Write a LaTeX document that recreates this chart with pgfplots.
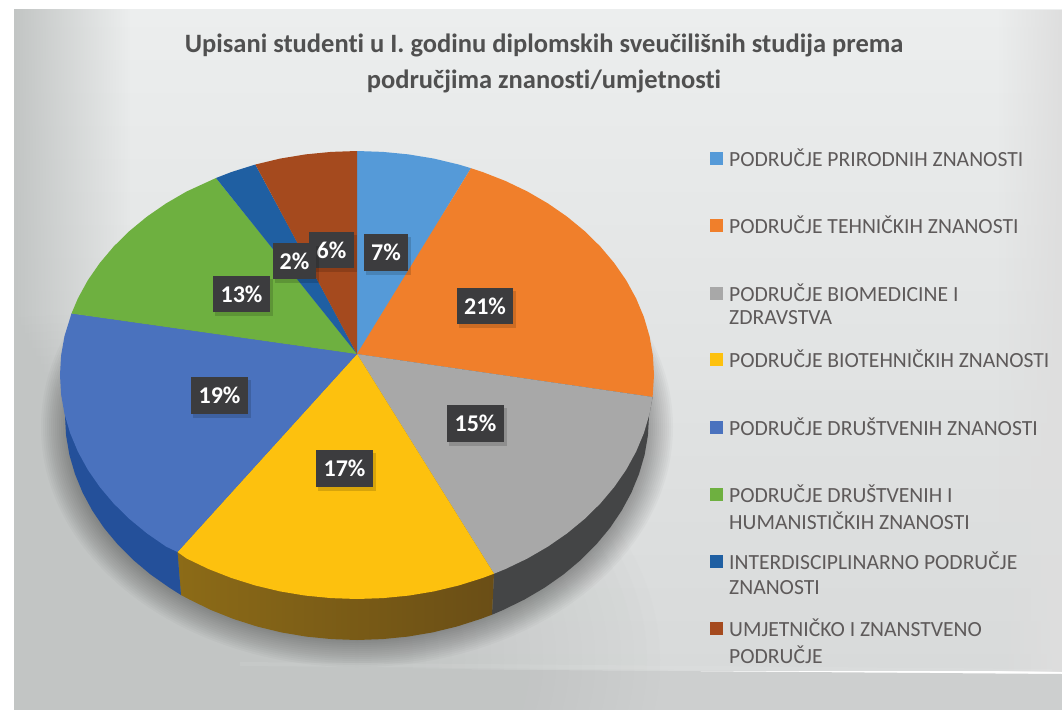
\documentclass[border=0pt]{standalone}
\usepackage{pgfplots}
\pgfplotsset{compat=1.18}
\usepackage{fontspec}
\setmainfont[Ligatures={NoCommon}]{Carlito}
\usetikzlibrary{fadings}
\definecolor{cBlue}{HTML}{559AD8}
\definecolor{cOrange}{HTML}{F07F2B}
\definecolor{cGray}{HTML}{A8A8A8}
\definecolor{cYellow}{HTML}{FDC10E}
\definecolor{cDBlue}{HTML}{4A72BE}
\definecolor{cGreen}{HTML}{6EB040}
\definecolor{cIBlue}{HTML}{1F5FA2}
\definecolor{cBrown}{HTML}{A54A1E}
\definecolor{cBox}{HTML}{3C3C3E}
\definecolor{cTitle}{HTML}{505050}
\definecolor{cLeg}{HTML}{5E5A5A}
\definecolor{bgTop}{HTML}{ECEEEE}
\definecolor{bgMid}{HTML}{E9EBEB}
\definecolor{bgBot}{HTML}{D8DADA}
\definecolor{bgBand}{HTML}{CDCFCF}
\definecolor{bgDark}{HTML}{C2C5C4}
\definecolor{sideL}{HTML}{8C6B17}
\definecolor{sideR}{HTML}{6A4E16}
\definecolor{sideB}{HTML}{24509A}
\definecolor{sideG}{HTML}{444546}
\newcommand{\plabel}[5]{%
  \fill[black,opacity=.15] (axis cs:#1+2,#2+3) rectangle (axis cs:#3+3,#4+4);
  \fill[cBox] (axis cs:#1,#2) rectangle (axis cs:#3,#4);
  \node[text=white,inner sep=0pt,font=\fontsize{24}{26}\selectfont\bfseries] at (axis cs:{(#1+#3)/2},{(#2+#4)/2}) {#5};
}
\newcommand{\legitem}[3]{%
  \fill[#1] (axis cs:710,#2-6.5) rectangle (axis cs:723,#2+6.5);
  \node[anchor=west,text=cLeg,inner sep=0pt,font=\fontsize{21.6}{23}\selectfont] at (axis cs:729,#2) {#3};
}
\newcommand{\legline}[2]{%
  \node[anchor=west,text=cLeg,inner sep=0pt,font=\fontsize{21.6}{23}\selectfont] at (axis cs:729,#1) {#2};
}
\begin{document}
\begin{tikzpicture}
\begin{axis}[
  scale only axis, width=1062pt, height=709pt,
  xmin=0, xmax=1062, ymin=0, ymax=709, y dir=reverse,
  hide axis, clip=true, axis on top=false]
% background
\fill[white] (axis cs:0,0) rectangle (axis cs:1062,709);
\shade[top color=bgTop, middle color=bgMid, bottom color=bgBot]
   (axis cs:14,10) rectangle (axis cs:1062,670);
\fill[bgBand] (axis cs:14,666) -- (axis cs:1062,674) -- (axis cs:1062,710) -- (axis cs:14,710) -- cycle;
\shade[left color=bgDark, right color=bgDark, path fading=east]
   (axis cs:14,10) rectangle (axis cs:130,672);
\begin{scope}
\clip (axis cs:14,10) rectangle (axis cs:1062,710);
\pgfplotsinvokeforeach{0,...,39}{
  \fill[bgDark,opacity=.05] (axis cs:90,660) ellipse [x radius={570-13*#1}, y radius={345-8*#1}];
}
\end{scope}
\fill[gray!26!white,path fading=west] (axis cs:998,10) rectangle (axis cs:1062,672);
\fill[white,opacity=.07] (axis cs:240,662) -- (axis cs:1052,669) -- (axis cs:1052,673) -- (axis cs:240,666) -- cycle;
% soft shadow
\pgfplotsinvokeforeach{0,...,15}{
  \fill[black,opacity=.023] (axis cs:357,427) ellipse [x radius={316-2*#1}, y radius={240-2*#1}];
}
% side walls
\addplot[draw=none,fill=sideG] coordinates {
 (357,354)(652.6,397)(649,416)(647.9,435.5)(644.6,454.9)(639,474)(631.4,492.6)(621.6,510.7)(609.9,528)(596.2,544.5)(580.7,560)(563.5,574.4)(544.7,587.6)(524.5,599.5)(503,610)(492,614.7)(494,573)} -- cycle;
\addplot[draw=none,left color=sideL, right color=sideR] coordinates {
 (357,354)(494,573)(492,614.7)(480.4,619)(456.9,626.5)(432.6,632.4)(407.7,636.6)(382.4,639.1)(357,640)(331.6,639.1)(306.3,636.6)(281.4,632.4)(257.1,626.5)(233.6,619)(211,610)(189.5,599.5)(181,595)(177.5,552)} -- cycle;
\addplot[draw=none,fill=sideB] coordinates {
 (357,354)(177.5,552)(181,595)(169.3,587.6)(150.5,574.4)(133.3,560)(117.8,544.5)(104.1,528)(92.4,510.7)(82.6,492.6)(75,474)(69.4,454.9)(66.1,435.5)(65,416)(71.5,313.5)} -- cycle;
% top surfaces
\addplot[draw=none,fill=cBlue] coordinates {
 (357,354)(357,151)(382.9,151.9)(408.6,154.4)(433.9,158.6)(458.6,164.5)(471,168.2)} -- cycle;
\addplot[draw=none,fill=cOrange] coordinates {
 (357,354)(471,168.2)(482.5,172)(505.5,181)(527.4,191.5)(547.9,203.4)(567,216.6)(584.5,231)(600.3,246.5)(614.2,263)(626.2,280.3)(636.1,298.4)(643.9,317)(649.5,336.1)(652.9,355.5)(654,375)(652.6,397)} -- cycle;
\addplot[draw=none,fill=cGray] coordinates {
 (357,354)(652.6,397)(649.5,413.9)(643.9,433)(636.1,451.6)(626.2,469.7)(614.2,487)(600.3,503.5)(584.5,519)(567,533.4)(547.9,546.6)(527.4,558.5)(505.5,569)(494,573.7)} -- cycle;
\addplot[draw=none,fill=cYellow] coordinates {
 (357,354)(494,573.7)(482.5,578)(458.6,585.5)(433.9,591.4)(408.6,595.6)(382.9,598.1)(357,599)(331.1,598.1)(305.4,595.6)(280.1,591.4)(255.4,585.5)(231.5,578)(208.5,569)(186.6,558.5)(177.5,552)} -- cycle;
\addplot[draw=none,fill=cDBlue] coordinates {
 (357,354)(177.5,552)(166.1,546.6)(147,533.4)(129.5,519)(113.7,503.5)(99.8,487)(87.8,469.7)(77.9,451.6)(70.1,433)(64.5,413.9)(61.1,394.5)(60,375)(61.1,355.5)(64.5,336.1)(71.5,313.5)} -- cycle;
\addplot[draw=none,fill=cGreen] coordinates {
 (357,354)(71.5,313.5)(77.9,298.4)(87.8,280.3)(99.8,263)(113.7,246.5)(129.5,231)(147,216.6)(166.1,203.4)(186.6,191.5)(216,178)} -- cycle;
\addplot[draw=none,fill=cIBlue] coordinates {
 (357,354)(216,178)(231.5,172)(255.4,164.5)} -- cycle;
\addplot[draw=none,fill=cBrown] coordinates {
 (357,354)(255.4,164.5)(280.1,158.6)(305.4,154.4)(331.1,151.9)(357,151)} -- cycle;
% data labels
\plabel{364}{234}{408}{271}{7\%}
\plabel{309}{232}{354}{268}{6\%}
\plabel{273}{243}{316}{279}{2\%}
\plabel{213}{276}{270}{312}{13\%}
\plabel{457}{288}{513}{324}{21\%}
\plabel{447}{405}{504}{442}{15\%}
\plabel{316}{450}{373}{487}{17\%}
\plabel{191}{377}{248}{414}{19\%}
% title
\node[text=cTitle,inner sep=0pt,font=\fontsize{26.5}{28}\selectfont\bfseries] at (axis cs:544,45) {Upisani studenti u I. godinu diplomskih sveučilišnih studija prema};
\node[text=cTitle,inner sep=0pt,font=\fontsize{26.5}{28}\selectfont\bfseries] at (axis cs:544,81) {područjima znanosti/umjetnosti};
% legend
\legitem{cBlue}{158}{PODRUČJE PRIRODNIH ZNANOSTI}
\legitem{cOrange}{225}{PODRUČJE TEHNIČKIH ZNANOSTI}
\legitem{cGray}{293}{PODRUČJE BIOMEDICINE I}
\legline{318}{ZDRAVSTVA}
\legitem{cYellow}{359}{PODRUČJE BIOTEHNIČKIH ZNANOSTI}
\legitem{cDBlue}{427}{PODRUČJE DRUŠTVENIH ZNANOSTI}
\legitem{cGreen}{494}{PODRUČJE DRUŠTVENIH I}
\legline{521}{HUMANISTIČKIH ZNANOSTI}
\legitem{cIBlue}{561}{INTERDISCIPLINARNO PODRUČJE}
\legline{588}{ZNANOSTI}
\legitem{cBrown}{628}{UMJETNIČKO I ZNANSTVENO}
\legline{655}{PODRUČJE}
\end{axis}
\end{tikzpicture}
\end{document}
